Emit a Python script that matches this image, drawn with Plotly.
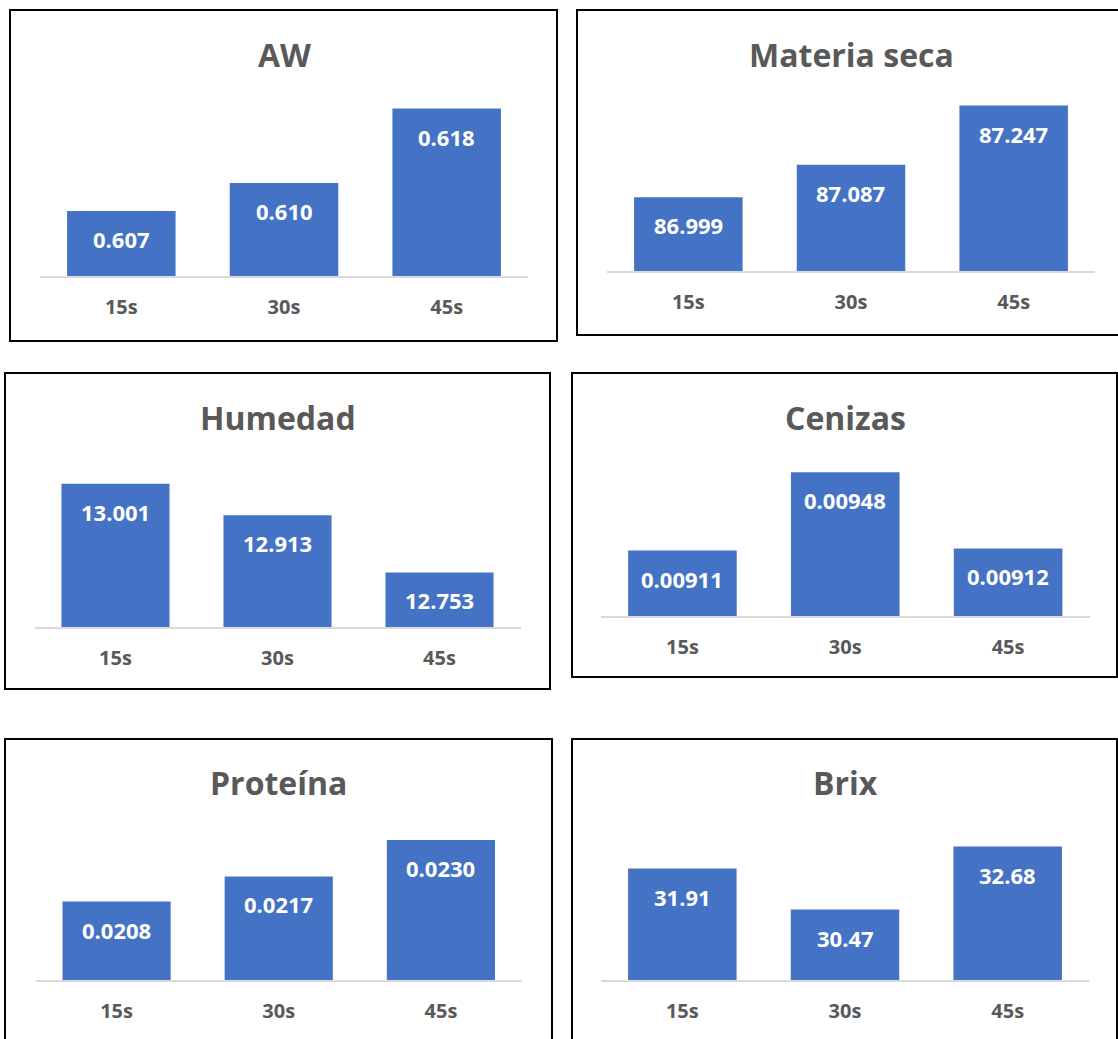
import plotly.graph_objects as go

# ---------------- data ----------------
categories = ["15s", "30s", "45s"]

titles = ["AW", "Materia seca", "Humedad", "Cenizas", "Proteína", "Brix"]

aw = [0.607, 0.610, 0.618]
materia_seca = [86.999, 87.087, 87.247]
humedad = [13.001, 12.913, 12.753]
cenizas = [0.00911, 0.00948, 0.00912]
proteina = [0.0208, 0.0217, 0.0230]
brix = [31.91, 30.47, 32.68]

label_formats = ["{:.3f}", "{:.3f}", "{:.3f}", "{:.5f}", "{:.4f}", "{:.2f}"]
series = [aw, materia_seca, humedad, cenizas, proteina, brix]

# value axis ranges (Excel auto-scale, not starting at zero)
y_ranges = [
    [0.600, 0.620],
    [86.8, 87.3],
    [12.6, 13.1],
    [0.0088, 0.0096],
    [0.018, 0.024],
    [28.0, 34.0],
]

# ---------------- layout (pixels) ----------------
W, H = 1118, 1039
# plot area: x0, x1, y_top, y_bottom ; title centre y ; border box l, t, r, b
plot_px = [
    (40, 528, 90, 276),
    (607, 1095, 86, 271),
    (34.5, 520.5, 448.5, 627),
    (601, 1089.5, 447, 616),
    (35.5, 522, 812, 980),
    (601, 1089, 809, 980),
]
title_y = [54, 54, 417, 417, 782, 782]
boxes = [
    (10, 10, 557, 341),
    (577, 10, 1130, 335),
    (5, 373, 550, 689),
    (572, 373, 1117, 677),
    (5, 739, 552, 1060),
    (572, 739, 1117, 1060),
]

BAR = "#4472C4"
GREY = "#595959"
FONT = "Open Sans"


def fx(px):
    return px / W


def fy(py):
    return 1 - py / H


fig = go.Figure()
annotations = []
shapes = []

for i in range(6):
    n = "" if i == 0 else str(i + 1)
    xa, ya = "x" + n, "y" + n
    x0, x1, yt, yb = plot_px[i]
    vals = series[i]
    fig.add_trace(go.Bar(
        x=categories, y=vals, xaxis=xa, yaxis=ya,
        marker=dict(color=BAR, line=dict(width=0)),
        showlegend=False, hoverinfo="skip",
    ))
    fig.layout["xaxis" + n] = dict(
        domain=[fx(x0), fx(x1)], anchor=ya,
        showline=True, linecolor="#D9D9D9", linewidth=2,
        showgrid=False, zeroline=False, ticks="",
        ticklabelstandoff=12,
        tickfont=dict(family=FONT, size=20, color=GREY, weight="bold"),
        fixedrange=True,
    )
    fig.layout["yaxis" + n] = dict(
        domain=[fy(yb), fy(yt)], anchor=xa, range=y_ranges[i],
        visible=False, showgrid=False, zeroline=False, fixedrange=True,
    )
    for c, v in zip(categories, vals):
        annotations.append(dict(
            x=c, y=v, xref=xa, yref=ya, text=label_formats[i].format(v),
            showarrow=False, yanchor="middle", yshift=-28,
            font=dict(family=FONT, size=22, color="white", weight="bold"),
        ))
    annotations.append(dict(
        x=fx((x0 + x1) / 2), y=fy(title_y[i]), xref="paper", yref="paper",
        text=titles[i], showarrow=False, xanchor="center", yanchor="middle",
        font=dict(family=FONT, size=32, color=GREY, weight="bold"),
    ))
    l, t, r, b = boxes[i]
    shapes.append(dict(
        type="rect", xref="paper", yref="paper",
        x0=fx(l), x1=fx(r), y0=fy(b), y1=fy(t),
        line=dict(color="#000000", width=2), fillcolor="rgba(0,0,0,0)",
        layer="above",
    ))

fig.update_layout(
    width=W, height=H,
    margin=dict(l=0, r=0, t=0, b=0),
    paper_bgcolor="white", plot_bgcolor="white",
    bargap=0.333,
    annotations=annotations, shapes=shapes,
    showlegend=False,
)

fig.write_html("out.html")
